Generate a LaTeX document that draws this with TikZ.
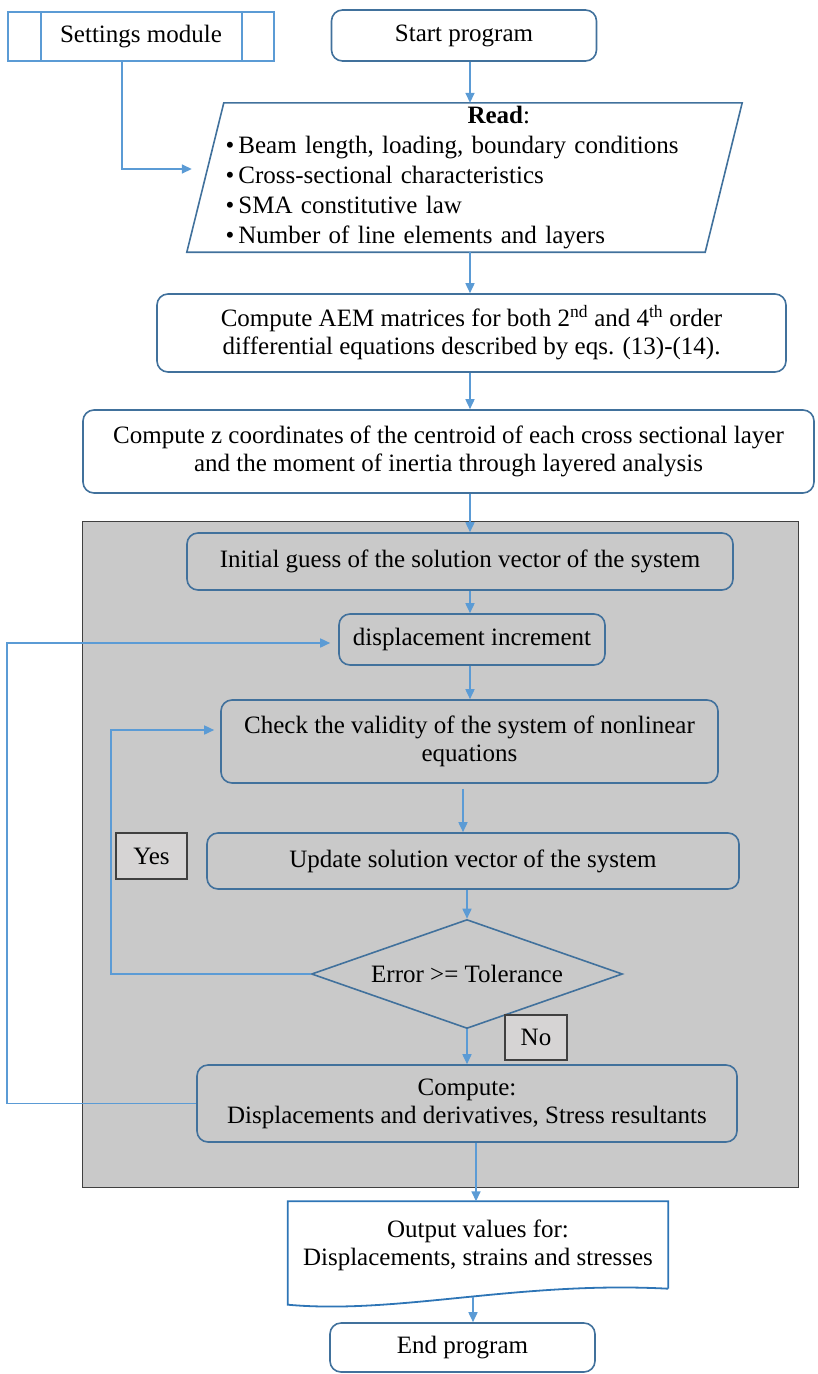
\documentclass[tikz,border=0pt]{standalone}
\usepackage{fontspec}
\setmainfont{Liberation Serif}
\usetikzlibrary{shapes.geometric,arrows.meta}

\begin{document}
\begin{tikzpicture}[x=1pt,y=-1pt,
  font=\fontsize{25}{28}\selectfont,
  box/.style={draw=boxBlue, line width=1.6pt, rounded corners=11pt, align=center, inner sep=0pt},
  modbox/.style={draw=lineBlue, line width=2pt, align=center, inner sep=0pt, minimum width=266pt, minimum height=49pt},
  tagbox/.style={draw=frameGray, line width=1.2pt, fill=tagGray, inner sep=0pt},
  decision/.style={diamond, draw=boxBlue, line width=1.6pt, aspect=2.85, inner sep=0pt, minimum width=311pt, minimum height=109pt},
  arr/.style={draw=lineBlue, line width=1.6pt, -{Triangle[length=10pt,width=9pt]}}]

% Colori
\definecolor{boxBlue}{HTML}{41719C}
\definecolor{lineBlue}{HTML}{5B9BD5}
\definecolor{docBlue}{HTML}{2E75B6}
\definecolor{areaGray}{HTML}{C9C9C9}
\definecolor{tagGray}{HTML}{D6D4D4}
\definecolor{frameGray}{HTML}{404040}

\useasboundingbox (0,0) rectangle (817,1374);

% Area del ciclo iterativo
\filldraw[fill=areaGray, draw=frameGray, line width=1pt] (82,521) rectangle (798,1187);

% Asse principale
\coordinate (axis) at (470,0);

% Blocchi superiori
\node[modbox] (settings) at (141,36.5) {Settings module};
\draw[lineBlue, line width=2pt] ([xshift=34pt]settings.north west) -- ([xshift=34pt]settings.south west);
\draw[lineBlue, line width=2pt] ([xshift=-33pt]settings.north east) -- ([xshift=-33pt]settings.south east);

\node[box, minimum width=265pt, minimum height=51pt] (start) at (464,35.5) {Start program};

\node[minimum width=481pt, minimum height=149pt, inner sep=0pt, text width=478pt, align=left,
  font=\fontsize{25}{30}\selectfont] (read) at (464.5,177.5)
  {\hspace*{242pt}\textbf{Read}:\\
   \textbullet\,Beam length, loading, boundary conditions\\
   \textbullet\,Cross-sectional characteristics\\
   \textbullet\,SMA constitutive law\\
   \textbullet\,Number of line elements and layers};
\draw[boxBlue, line width=1.6pt] (read.north west) -- ([xshift=37pt]read.north east)
  -- (read.south east) -- ([xshift=-37pt]read.south west) -- cycle;

\node[box, minimum width=629pt, minimum height=78pt] (aem) at (471.5,333)
  {Compute AEM matrices for both 2\textsuperscript{nd} and 4\textsuperscript{th} order\\
   differential equations described by eqs. (13)-(14).};

\node[box, minimum width=731pt, minimum height=83pt] (zbox) at (448.5,451.5)
  {Compute z coordinates of the centroid of each cross sectional layer\\
   and the moment of inertia through layered analysis};

% Blocchi del ciclo
\node[box, minimum width=546pt, minimum height=57pt] (init) at (460,561.5)
  {Initial guess of the solution vector of the system};
\node[box, minimum width=266pt, minimum height=51pt] (disp) at (472,639.5)
  {displacement increment};
\node[box, minimum width=497pt, minimum height=83pt] (check) at (469.5,741.5)
  {Check the validity of the system of nonlinear\\equations};
\node[box, minimum width=532pt, minimum height=56pt] (update) at (473,861)
  {Update solution vector of the system};
\node[decision] (err) at (467,974) {Error >= Tolerance};
\node[box, minimum width=540pt, minimum height=77pt] (comp) at (467,1103.5)
  {Compute:\\Displacements and derivatives, Stress resultants};

\node[tagbox, minimum width=71pt, minimum height=46pt] (yes) at (151.5,856) {Yes};
\node[tagbox, minimum width=62pt, minimum height=45pt] (no) at (536,1037.5) {No};

% Uscita
\node[minimum width=380pt, minimum height=87pt, inner sep=0pt, align=center] (out) at (478,1245)
  {Output values for:\\Displacements, strains and stresses};
\draw[docBlue, line width=1.8pt] (out.south east) -- (out.north east) -- (out.north west)
  -- ([yshift=-16pt]out.south west)
  .. controls ([xshift=110pt,yshift=-26pt]out.south west) and ([xshift=-150pt,yshift=8pt]out.south east) .. (out.south east);

\node[box, minimum width=265pt, minimum height=49pt] (end) at (462.5,1347.5) {End program};

% Frecce
\draw[arr] ([xshift=-19pt]settings.south) |- ([xshift=-32pt,yshift=8.5pt]read.west);
\draw[arr] (axis |- start.south) -- (axis |- read.north);
\draw[arr] (axis |- read.south) -- (axis |- aem.north);
\draw[arr] (axis |- aem.south) -- (axis |- zbox.north);
\draw[arr] (axis |- zbox.south) -- (axis |- init.north);
\draw[arr] (axis |- init.south) -- (axis |- disp.north);
\draw[arr] (axis |- disp.south) -- (axis |- check.north);
\draw[arr, shorten <=5pt] ([xshift=-7pt]axis |- check.south) -- ([xshift=-7pt]axis |- update.north);
\draw[arr] (err.north |- update.south) -- (err.north);
\draw[arr] (err.south) -- (err.south |- comp.north);
\draw[arr] ([xshift=6pt]axis |- comp.south) -- ([xshift=6pt]axis |- out.north);
\draw[arr] ([xshift=3pt,yshift=-8pt]axis |- out.south) -- ([xshift=3pt]axis |- end.north);

% Ritorni
\draw[arr] (err.west) -- ++(-199.5,0) |- ([xshift=-6pt,yshift=11.5pt]check.west);
\draw[arr] (comp.west) -- ++(-189,0) |- ([xshift=-8pt,yshift=-3.5pt]disp.west);

\end{tikzpicture}
\end{document}
